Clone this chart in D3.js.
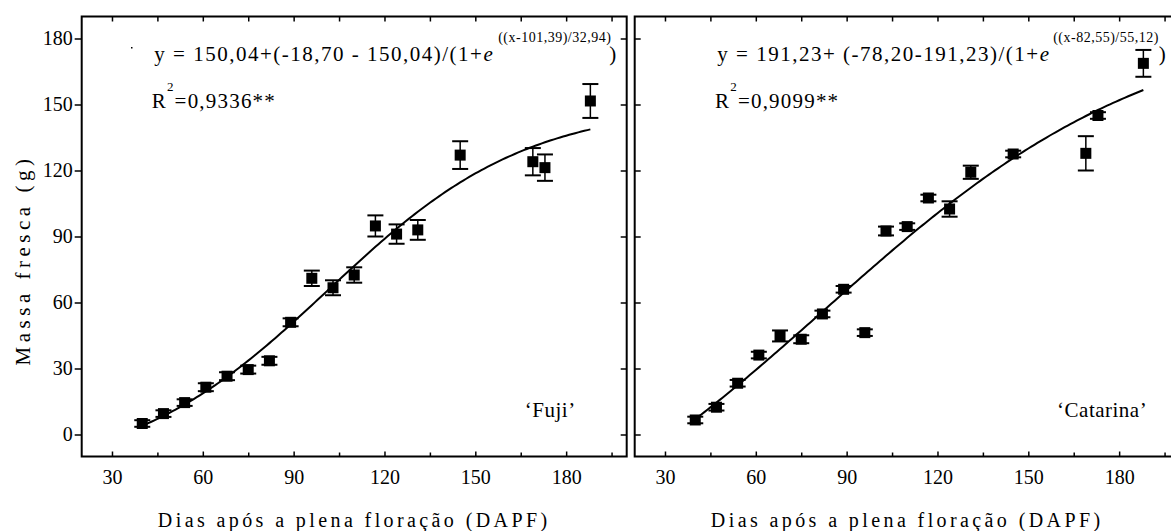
<!DOCTYPE html>
<html>
<head>
<meta charset="utf-8">
<script src="https://cdn.jsdelivr.net/npm/d3@7"></script>
<style>
  body { margin: 0; background: #fff; }
  svg text, svg tspan { font-family: "Liberation Serif", "Times New Roman", serif; fill: #000; }
</style>
</head>
<body>
<svg id="chart" width="1171" height="531"></svg>
<script>
// Sampling dates (days after full bloom)
const days = [40, 47, 54, 61, 68, 75, 82, 89, 96, 103, 110, 117, 124, 131, 145, 169, 173, 188];

// 'Fuji' fresh mass (g) and standard error
const fujiMass = [5, 9.5, 14.5, 21.5, 26.5, 29.5, 33.5, 51, 71, 66.7, 72.5, 94.8, 91.1, 93, 127, 124, 121.3, 151.6];
const fujiErr  = [1.5, 1.5, 1.5, 1.8, 1.8, 1.8, 1.8, 1.8, 3.5, 3.4, 3.5, 4.8, 4.4, 4.5, 6.3, 6.2, 6, 7.7];

// 'Catarina' fresh mass (g) and standard error
const catarinaMass = [6.6, 12.4, 23.3, 36.1, 44.8, 43.3, 54.8, 66, 46.3, 92.5, 94.5, 107.5, 102.5, 119.2, 127.5, 127.8, 145, 168.7];
const catarinaErr  = [1.5, 1.5, 1.5, 1.5, 2.5, 1.8, 1.5, 1.5, 1.5, 2, 1.5, 1.5, 3.5, 3, 1.5, 7.8, 1.5, 6.1];

// Sigmoid fit parameters: y = A2 + (A1 - A2) / (1 + exp((x - x0) / dx))
const fujiFit = [-18.70, 150.04, 101.39, 32.94];
const catarinaFit = [-78.20, 191.23, 82.55, 55.12];

// Axis ticks
const xTicks = [30, 60, 90, 120, 150, 180];
const xMinorTicks = [45, 75, 105, 135, 165, 195];
const yTicks = [0, 30, 60, 90, 120, 150, 180];

const svg = d3.select("#chart");
const W = 545, yTop = 16.5, yBottom = 456.5;
const y = d3.scaleLinear().domain([-10, 190]).range([yBottom, yTop]);

function fitCurve(p) {
  const [a1, a2, x0, dx] = p;
  return d => a2 + (a1 - a2) / (1 + Math.exp((d - x0) / dx));
}

function panel(left, mass, err, fit, eq, name, showLeftLabels) {
  const x = d3.scaleLinear().domain([20, 200]).range([left, left + W]);
  const g = svg.append("g");

  // bottom ticks (inward) + labels
  const bAxis = g.append("g").attr("transform", `translate(0,${yBottom})`)
    .call(d3.axisBottom(x).tickValues(xTicks).tickSizeInner(-5).tickSizeOuter(0).tickPadding(13).tickFormat(d3.format("d")));
  bAxis.select(".domain").remove();
  bAxis.selectAll("text").style("font-size", "20px");
  bAxis.selectAll("line").attr("stroke-width", 1.5);
  g.append("g").attr("transform", `translate(0,${yBottom})`)
    .call(d3.axisBottom(x).tickValues(xMinorTicks).tickSizeInner(-4).tickSizeOuter(0).tickFormat(""))
    .call(a => a.select(".domain").remove())
    .selectAll("line").attr("stroke-width", 1.5);

  // top ticks (inward)
  g.append("g").attr("transform", `translate(0,${yTop})`)
    .call(d3.axisTop(x).tickValues(xTicks.concat(xMinorTicks)).tickSizeInner(-5).tickSizeOuter(0).tickFormat(""))
    .call(a => a.select(".domain").remove())
    .selectAll("line").attr("stroke-width", 1.5);

  // left axis
  if (showLeftLabels) {
    const lAxis = g.append("g").attr("transform", `translate(${left},0)`)
      .call(d3.axisLeft(y).tickValues(yTicks).tickSizeInner(7).tickSizeOuter(0).tickPadding(2));
    lAxis.select(".domain").remove();
    lAxis.selectAll("text").style("font-size", "20px");
    lAxis.selectAll("line").attr("stroke-width", 1.5);
  } else {
    g.append("g").attr("transform", `translate(${left},0)`)
      .call(d3.axisRight(y).tickValues(yTicks).tickSizeInner(6).tickSizeOuter(0).tickFormat(""))
      .call(a => a.select(".domain").remove())
      .selectAll("line").attr("stroke-width", 1.5);
  }
  // right axis (inward)
  g.append("g").attr("transform", `translate(${left + W},0)`)
    .call(d3.axisLeft(y).tickValues(yTicks).tickSizeInner(6).tickSizeOuter(0).tickFormat(""))
    .call(a => a.select(".domain").remove())
    .selectAll("line").attr("stroke-width", 1.5);

  // frame
  g.append("rect").attr("x", left).attr("y", yTop).attr("width", W).attr("height", yBottom - yTop)
    .attr("fill", "none").attr("stroke", "#000").attr("stroke-width", 2);

  // fitted curve
  const f = fitCurve(fit);
  const xs = d3.range(days[0], days[days.length - 1] + 0.01, 1);
  g.append("path").datum(xs)
    .attr("d", d3.line().x(d => x(d)).y(d => y(f(d))))
    .attr("fill", "none").attr("stroke", "#000").attr("stroke-width", 2);

  // error bars
  const eb = g.append("g").selectAll("g").data(days.map((d, i) => ({d, m: mass[i], e: err[i]}))).join("g");
  eb.append("line").attr("x1", p => x(p.d)).attr("x2", p => x(p.d))
    .attr("y1", p => y(p.m + p.e)).attr("y2", p => y(p.m - p.e)).attr("stroke", "#000").attr("stroke-width", 1.5);
  eb.append("line").attr("x1", p => x(p.d) - 8).attr("x2", p => x(p.d) + 8)
    .attr("y1", p => y(p.m + p.e)).attr("y2", p => y(p.m + p.e)).attr("stroke", "#000").attr("stroke-width", 2);
  eb.append("line").attr("x1", p => x(p.d) - 8).attr("x2", p => x(p.d) + 8)
    .attr("y1", p => y(p.m - p.e)).attr("y2", p => y(p.m - p.e)).attr("stroke", "#000").attr("stroke-width", 2);
  // markers
  eb.append("rect").attr("x", p => x(p.d) - 5.5).attr("y", p => y(p.m) - 5.5)
    .attr("width", 11).attr("height", 11).attr("fill", "#000");

  // fitted equation
  const t = g.append("text").attr("x", left + eq.dx).attr("y", 61)
    .style("font-size", "21px").style("letter-spacing", "1.5px");
  t.append("tspan").text(eq.main);
  t.append("tspan").style("font-style", "italic").text("e");
  t.append("tspan").attr("x", left + eq.supX).attr("y", 42)
    .style("font-size", "14px").style("letter-spacing", "0.5px").text(eq.sup);
  t.append("tspan").attr("x", left + eq.closeX).attr("y", 61).text(")");

  const r = g.append("text").attr("x", left + eq.rx).attr("y", 108)
    .style("font-size", "21px").style("letter-spacing", "1.2px");
  r.append("tspan").text("R");
  r.append("tspan").attr("dy", -17).style("font-size", "13px").text("2");
  r.append("tspan").attr("dy", 17).text(eq.r2);

  // cultivar label
  g.append("text").attr("x", left + eq.labelEnd).attr("y", 417).attr("text-anchor", "end")
    .style("font-size", "21px").style("letter-spacing", "0.5px").text(name);

  // x title
  g.append("text").attr("x", left + W / 2).attr("y", 527).attr("text-anchor", "middle")
    .style("font-size", "20px").style("letter-spacing", "3.4px").text("Dias após a plena floração (DAPF)");
  return x;
}

panel(81.7, fujiMass, fujiErr, fujiFit,
  {main: "y = 150,04+(-18,70 - 150,04)/(1+", sup: "((x-101,39)/32,94)", r2: "=0,9336**",
   dx: 72.6, supX: 416.5, closeX: 527.5, rx: 70, labelEnd: 494},
  "\u2018Fuji\u2019", true);
panel(634.7, catarinaMass, catarinaErr, catarinaFit,
  {main: "y = 191,23+ (-78,20-191,23)/(1+", sup: "((x-82,55)/55,12)", r2: "=0,9099**",
   dx: 82.6, supX: 418.5, closeX: 524, rx: 80.3, labelEnd: 512.5},
  "\u2018Catarina\u2019", false);

// stray dot near the first equation
svg.append("rect").attr("x", 131).attr("y", 47).attr("width", 1.5).attr("height", 1.5).attr("fill", "#000");

// y title
svg.append("text").attr("transform", "translate(30,260) rotate(-90)").attr("text-anchor", "middle")
  .style("font-size", "21px").style("letter-spacing", "4.5px").text("Massa fresca (g)");
</script>
</body>
</html>
